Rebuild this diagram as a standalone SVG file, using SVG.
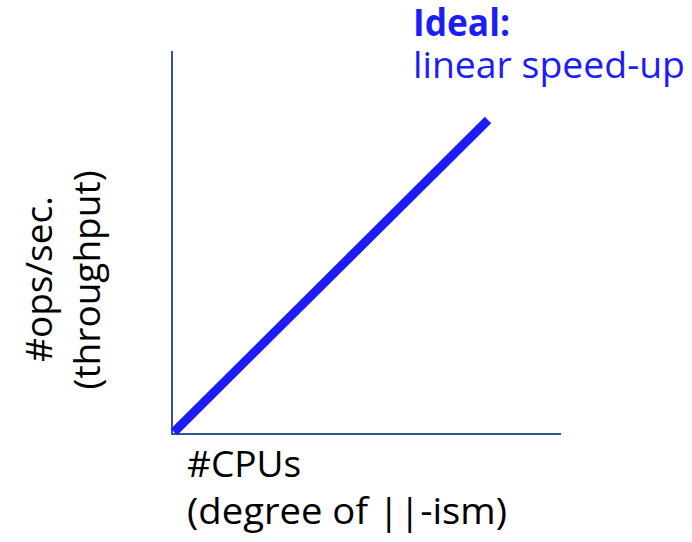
<svg xmlns="http://www.w3.org/2000/svg" width="692" height="542" viewBox="0 0 692 542">
  <style>
    .lbl { font-family: "Open Sans", "Liberation Sans", sans-serif; font-size: 37px; fill: #000; }
    .blue { fill: #1c1cf8; }
    .bold { font-weight: bold; }
    .axis { stroke: #2f5597; stroke-width: 2; fill: none; }
    .ideal { stroke: #1c1cf8; stroke-width: 9; fill: none; }
  </style>
  <rect width="692" height="542" fill="#fff"/>
  <g id="connectors">
    <line class="axis" x1="172" y1="51" x2="172" y2="434"/>
    <line class="axis" x1="171" y1="434" x2="561" y2="434"/>
    <line class="ideal" x1="174" y1="432" x2="488" y2="120"/>
  </g>
  <g id="ideal-label">
    <text class="lbl blue bold" x="413" y="36" textLength="97" lengthAdjust="spacingAndGlyphs">Ideal:</text>
    <text class="lbl blue" x="413" y="78" textLength="272" lengthAdjust="spacingAndGlyphs">linear speed-up</text>
  </g>
  <g id="x-label">
    <text class="lbl" x="187" y="477">#CPUs</text>
    <text class="lbl" x="187" y="524" textLength="320" lengthAdjust="spacingAndGlyphs">(degree of ||-ism)</text>
  </g>
  <g id="y-label">
    <text class="lbl" transform="translate(52,279) rotate(-90)" text-anchor="middle">#ops/sec.</text>
    <text class="lbl" transform="translate(100,280) rotate(-90)" text-anchor="middle">(throughput)</text>
  </g>
</svg>
